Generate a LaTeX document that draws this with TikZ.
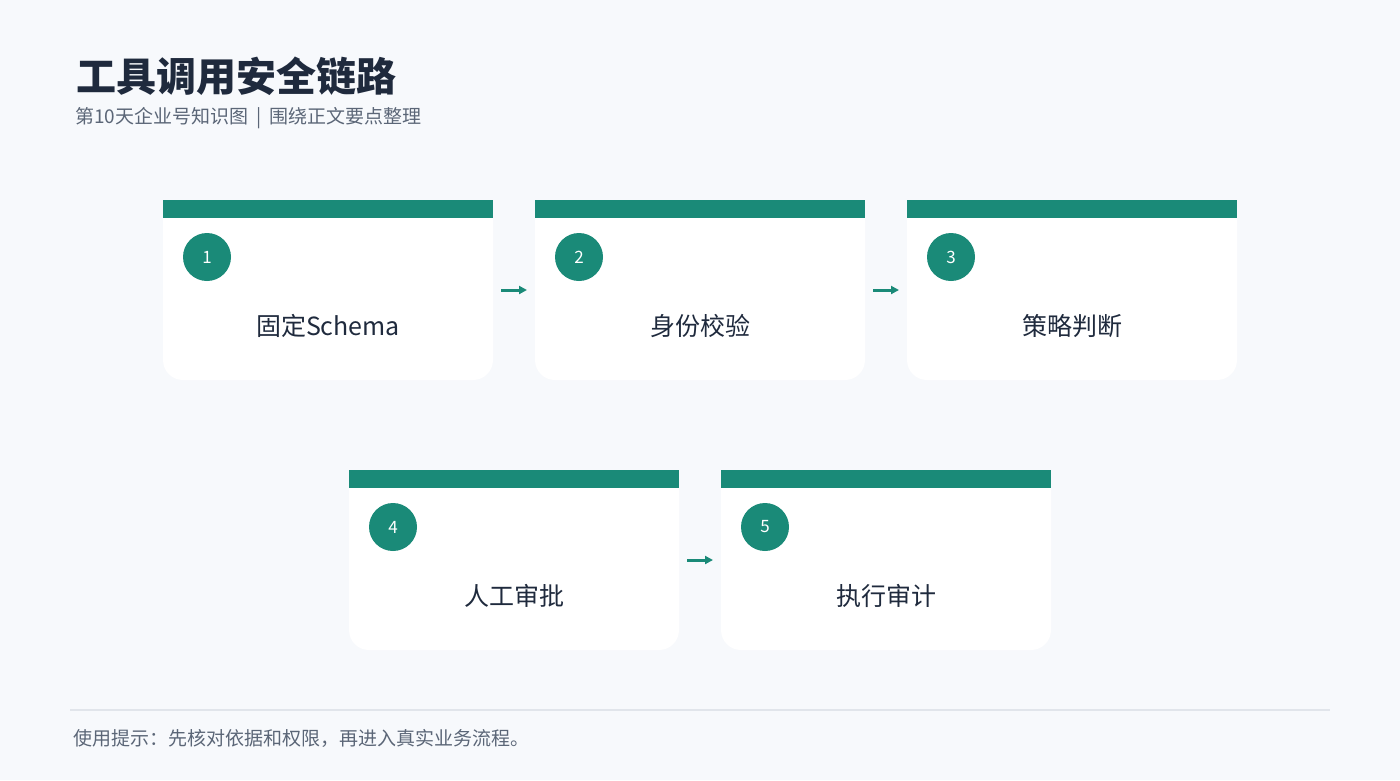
\documentclass[tikz,border=0pt]{standalone}
\usepackage{fontspec}
\setmainfont{Noto Sans CJK SC}
\usetikzlibrary{arrows.meta}
\definecolor{bg}{HTML}{F7F9FC}
\definecolor{teal}{HTML}{1A8A78}
\definecolor{ink}{HTML}{1F2A3D}
\definecolor{muted}{HTML}{5B6677}
\definecolor{rule}{HTML}{E1E5EB}
\tikzset{
  cardbox/.style={minimum width=330pt,minimum height=180pt,inner sep=0pt,outer sep=0pt},
  numdot/.style={circle,fill=teal,minimum size=48pt,inner sep=0pt,text=white,font=\fontsize{17pt}{17pt}\selectfont},
  lbl/.style={inner sep=0pt,text=ink,font=\fontsize{25pt}{25pt}\selectfont},
  arr/.style={draw=teal,line width=3pt,-{Triangle[length=8pt,width=8pt]}},
}
\newcommand{\drawcard}[1]{%
  \fill[white,rounded corners=20pt] (#1.north west) rectangle (#1.south east);
  \fill[white] (#1.north west) rectangle ([yshift=60pt]#1.east);
  \fill[teal] (#1.north west) rectangle ([yshift=-18pt]#1.north east);
}
\begin{document}
\begin{tikzpicture}[x=1pt,y=-1pt]
\fill[bg] (0,0) rectangle (1400,780);
\useasboundingbox (0,0) rectangle (1400,780);
\node[anchor=west,inner sep=0pt,text=ink,font=\fontsize{40pt}{40pt}\selectfont\bfseries] (title) at (76,76) {工具调用安全链路};
\node[anchor=west,inner sep=0pt,text=muted,font=\fontsize{19pt}{19pt}\selectfont] (sub) at (75,118) {第10天企业号知识图\hspace{8pt}|\hspace{8pt}围绕正文要点整理};
\node[cardbox] (c1) at (328,290) {};
\node[cardbox] (c2) at (700,290) {};
\node[cardbox] (c3) at (1072,290) {};
\node[cardbox] (c4) at (514,560) {};
\node[cardbox] (c5) at (886,560) {};
\drawcard{c1}\drawcard{c2}\drawcard{c3}\drawcard{c4}\drawcard{c5}
\foreach \c/\n/\t in {c1/1/固定Schema,c2/2/身份校验,c3/3/策略判断,c4/4/人工审批,c5/5/执行审计}{
  \node[numdot] (n\n) at ([xshift=44pt,yshift=-57pt]\c.north west) {\n};
  \node[lbl] (l\n) at ([yshift=-36pt]\c.center) {\t};
}
\draw[arr] ([xshift=8pt]c1.east) -- ([xshift=-8pt]c2.west);
\draw[arr] ([xshift=8pt]c2.east) -- ([xshift=-8pt]c3.west);
\draw[arr] ([xshift=8pt]c4.east) -- ([xshift=-8pt]c5.west);
\coordinate (r1) at (70,710);
\coordinate (r2) at (1330,710);
\draw[rule,line width=2pt] (r1) -- (r2);
\node[anchor=west,inner sep=0pt,text=muted,font=\fontsize{19pt}{19pt}\selectfont] (foot) at (73,738) {使用提示：先核对依据和权限，再进入真实业务流程。};
\end{tikzpicture}
\end{document}
